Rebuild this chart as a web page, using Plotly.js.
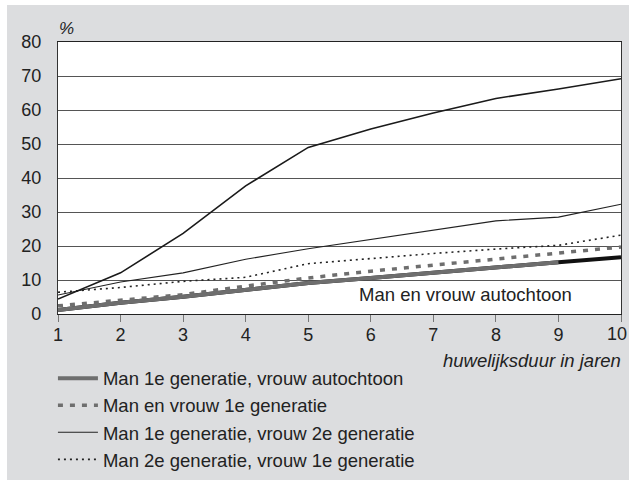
<!DOCTYPE html>
<html>
<head>
<meta charset="utf-8">
<script src="https://cdn.plot.ly/plotly-3.0.1.min.js"></script>
<style>
  html, body { margin: 0; padding: 0; background: #ffffff; overflow: hidden; }
  #panel { position: absolute; left: 7px; top: 5px; width: 622px; height: 475px; background: #dcdddf; }
  #chart { position: absolute; left: 0; top: 0; width: 629px; height: 482px; }
</style>
</head>
<body>
<div id="panel"></div>
<div id="chart"></div>
<script>
const years = [1, 2, 3, 4, 5, 6, 7, 8, 9, 10];
const xTickLabels = ["1", "2", "3", "4", "5", "6", "7", "8", "9", "10"];

// Man en vrouw autochtoon (black thick, visible 9-10)
const autochtoon = [1.2, 3.3, 5.1, 7.1, 9.1, 10.6, 12.2, 13.7, 15.2, 16.7];
// Man 1e generatie, vrouw autochtoon (thick gray)
const man1eVrouwAut = [1.2, 3.3, 5.1, 7.1, 9.1, 10.6, 12.2, 13.7, 15.2];
// Man en vrouw 1e generatie (dashed)
const beide1e = [2.4, 4.1, 5.7, 8.2, 10.6, 12.6, 14.4, 16.3, 17.9, 19.7];
// Man 1e generatie, vrouw 2e generatie (thin solid)
const man1eVrouw2e = [5.6, 9.4, 12.1, 16.1, 19.2, 22.0, 24.7, 27.4, 28.5, 32.3];
// Upper solid line (unlabelled)
const bovensteLijn = [4.4, 12.1, 23.7, 37.7, 49.0, 54.4, 59.1, 63.4, 66.2, 69.2];
// Man 2e generatie, vrouw 1e generatie (dotted)
const man2eVrouw1e = [6.4, 7.8, 9.6, 10.8, 14.8, 16.4, 17.8, 19.1, 20.2, 23.2];

const legendNames = [
  "Man 1e generatie, vrouw autochtoon",
  "Man en vrouw 1e generatie",
  "Man 1e generatie, vrouw 2e generatie",
  "Man 2e generatie, vrouw 1e generatie"
];

const traces = [
  { x: years, y: autochtoon, mode: "lines", line: { color: "#111111", width: 4 }, showlegend: false, hoverinfo: "skip" },
  { x: years.slice(0, man1eVrouwAut.length), y: man1eVrouwAut, mode: "lines", name: legendNames[0],
    line: { color: "#6e6e6e", width: 4 } },
  { x: years, y: beide1e, mode: "lines", name: legendNames[1],
    line: { color: "#6e6e6e", width: 3.5, dash: "5px,7px" } },
  { x: years, y: man1eVrouw2e, mode: "lines", name: legendNames[2],
    line: { color: "#222222", width: 1.1 } },
  { x: years, y: man2eVrouw1e, mode: "lines", name: legendNames[3],
    line: { color: "#222222", width: 1.6, dash: "2px,4px" } },
  { x: years, y: bovensteLijn, mode: "lines", line: { color: "#1a1a1a", width: 1.6 }, showlegend: false }
];

const font = "'Liberation Sans', Arial, sans-serif";
const lastIdx = years.length - 1;
// last tick label is drawn as a right-anchored annotation so it stays inside the picture
const axisTickText = xTickLabels.map((t, i) => (i === lastIdx ? "" : t));

const layout = {
  width: 629, height: 482,
  margin: { l: 58, r: 8, t: 42, b: 168, autoexpand: false },
  paper_bgcolor: "rgba(0,0,0,0)",
  plot_bgcolor: "#ffffff",
  font: { family: font, size: 18, color: "#222222" },
  showlegend: true,
  legend: {
    x: -0.009, xanchor: "left", y: -0.168, yanchor: "top",
    bgcolor: "rgba(0,0,0,0)", font: { size: 18.5, color: "#222222" },
    traceorder: "normal", tracegroupgap: 0, itemwidth: 40
  },
  xaxis: {
    range: [1, 10], tickvals: years, ticktext: axisTickText,
    showgrid: false, zeroline: false,
    showline: true, linecolor: "#222222", linewidth: 1.2, mirror: true,
    ticks: "outside", ticklen: 7, tickcolor: "#777777", tickwidth: 1,
    ticklabelstandoff: -3, ticklabeloverflow: "allow",
    tickfont: { size: 18, color: "#222222" }
  },
  yaxis: {
    range: [0, 80], dtick: 10, tick0: 0,
    showgrid: true, gridcolor: "#555555", gridwidth: 1,
    zeroline: false,
    showline: true, linecolor: "#333333", linewidth: 1.2, mirror: true,
    ticks: "", ticklabelstandoff: 12,
    tickfont: { size: 18, color: "#222222" }
  },
  annotations: [
    { text: xTickLabels[lastIdx], xref: "x", yref: "paper", x: years[lastIdx], y: -0.072, xanchor: "center", yanchor: "middle",
      xshift: -4, showarrow: false, font: { size: 18, color: "#222222", family: font } },
    { text: "%", xref: "paper", yref: "paper", x: 0.0155, y: 1.048, xanchor: "center", yanchor: "middle",
      showarrow: false, font: { size: 17, color: "#222222", family: font, style: "italic" } },
    { text: "huwelijksduur in jaren", xref: "paper", yref: "paper", x: 1.003, y: -0.17, xanchor: "right", yanchor: "middle",
      showarrow: false, font: { size: 18.5, color: "#222222", family: font, style: "italic" } },
    { text: "Man en vrouw autochtoon", xref: "x", yref: "y", x: 7.52, y: 5.6, xanchor: "center", yanchor: "middle",
      showarrow: false, font: { size: 18.5, color: "#222222", family: font } }
  ]
};

Plotly.newPlot("chart", traces, layout, { displayModeBar: false, staticPlot: true });
</script>
</body>
</html>
